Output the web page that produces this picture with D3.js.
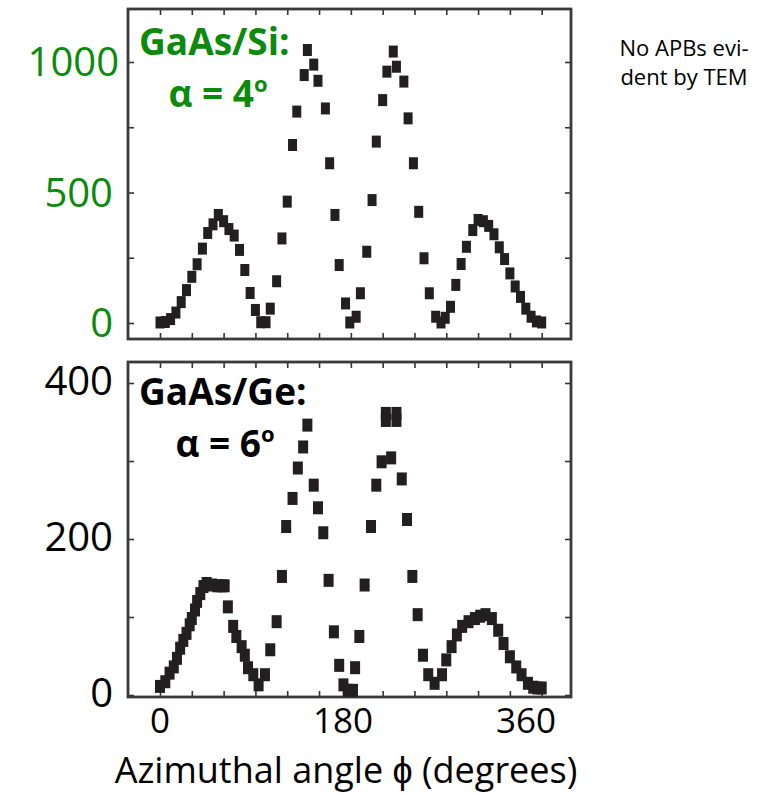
<!DOCTYPE html>
<html>
<head>
<meta charset="utf-8">
<script src="https://cdnjs.cloudflare.com/ajax/libs/d3/7.8.5/d3.min.js"></script>
<style>
  body { margin: 0; background: #fff; }
  svg { display: block; font-family: "Open Sans", sans-serif; }
</style>
</head>
<body>
<svg id="chart" width="763" height="793"></svg>
<script>
// GaAs/Si, alpha = 4 deg
const siPhi = [0, 5, 10, 15, 20, 25, 30, 35, 40, 45, 50, 55, 60, 65, 70, 75, 80, 85, 90, 95,
  100, 104, 110, 115, 120, 125, 129, 136, 139, 145, 149, 156, 160, 165, 169, 175, 179, 185, 189, 195,
  200, 204, 210, 214, 220, 223, 230, 234, 239, 244, 249, 254, 260, 265, 269, 274, 279, 284, 289, 295,
  300, 305, 310, 315, 320, 325, 330, 335, 340, 345, 350, 355, 360];
const siCounts = [2, 4, 15, 40, 80, 126, 177, 225, 285, 345, 378, 414, 390, 360, 335, 280, 203, 115, 50, 3,
  3, 55, 160, 324, 465, 682, 810, 950, 1046, 990, 928, 822, 612, 414, 222, 75, 2, 24, 114, 273,
  471, 695, 854, 963, 1040, 982, 925, 784, 612, 426, 248, 114, 24, 2, 20, 62, 146, 226, 292, 356,
  395, 390, 372, 340, 290, 245, 190, 140, 100, 55, 24, 6, 2];

// GaAs/Ge, alpha = 6 deg
const gePhi = [0, 5, 9, 13, 16, 19, 22, 25, 28, 30, 33, 35, 38, 41, 44, 49, 54, 58, 61, 64,
  69, 72, 77, 80, 83, 88, 93, 99, 104, 110, 115, 119, 125, 130, 135, 139, 145, 149, 154, 159,
  164, 169, 173, 177, 182, 184, 188, 193, 199, 204, 209, 213, 213, 218, 223, 223, 228, 233, 238, 243,
  248, 253, 259, 266, 270, 275, 280, 285, 291, 297, 302, 307, 313, 319, 324, 330, 336, 341, 347, 352,
  356, 360];
const geCounts = [11, 17, 28, 36, 47, 60, 70, 79, 90, 98, 109, 120, 130, 139, 143, 141, 140, 140, 140, 113,
  88, 75, 62, 51, 35, 26, 13, 26, 58, 94, 152, 216, 252, 291, 318, 346, 269, 240, 208, 147,
  81, 38, 13, 6, 6, 35, 75, 141, 216, 269, 299, 361, 352, 304, 361, 352, 277, 225, 152, 103,
  51, 26, 15, 26, 45, 62, 77, 88, 94, 98, 101, 103, 98, 83, 66, 49, 36, 26, 15, 10,
  9, 9];

const xTicks = [0, 30, 60, 90, 120, 150, 180, 210, 240, 270, 300, 330, 360];
const xLabels = [0, 180, 360];
const siTicks = [0, 250, 500, 750, 1000];
const siLabels = [0, 500, 1000];
const geTicks = [0, 100, 200, 300, 400];
const geLabels = [0, 200, 400];

const svg = d3.select("#chart");
const green = "#0b8a0b";
const ink = "#231f20";

const frameL = 128, frameR = 571;
const x = d3.scaleLinear().domain([0, 360]).range([160, 541.7]);
// the big overlaid labels sit a little left of the ticks
const xLab = d3.scaleLinear().domain([0, 360]).range([160, 526]);

const drawPanel = (p) => {
  const y = d3.scaleLinear().domain([0, p.yMax]).range([p.y0, p.yTop]);
  const g = svg.append("g");

  g.append("g").attr("transform", `translate(0,${p.bottom})`)
    .call(d3.axisBottom(x).tickValues(xTicks).tickSize(-6).tickFormat(""));
  g.append("g").attr("transform", `translate(0,${p.top})`)
    .call(d3.axisTop(x).tickValues(xTicks).tickSize(-6).tickFormat(""));
  g.append("g").attr("transform", `translate(${frameL},0)`)
    .call(d3.axisLeft(y).tickValues(p.ticks).tickSize(-6).tickFormat(""));
  g.append("g").attr("transform", `translate(${frameR},0)`)
    .call(d3.axisRight(y).tickValues(p.ticks).tickSize(-6).tickFormat(""));
  g.selectAll(".domain").remove();
  g.selectAll(".tick line").attr("stroke", "#333").attr("stroke-width", 1.6);

  g.append("rect")
    .attr("x", frameL).attr("y", p.top)
    .attr("width", frameR - frameL).attr("height", p.bottom - p.top)
    .attr("fill", "none").attr("stroke", "#3a3a3a").attr("stroke-width", 2.8);

  g.selectAll("rect.pt")
    .data(p.phi.map((d, i) => [d, p.counts[i]]))
    .enter().append("rect")
    .attr("class", "pt")
    .attr("x", d => x(d[0]) - p.sw / 2)
    .attr("y", d => y(d[1]) - p.sh / 2)
    .attr("width", p.sw).attr("height", p.sh)
    .attr("fill", ink);

  g.selectAll("text.ylab")
    .data(p.labels)
    .enter().append("text")
    .attr("class", "ylab")
    .attr("x", d => d >= 1000 ? 119 : 113)
    .attr("y", d => y(d) + p.labDy)
    .attr("text-anchor", "end")
    .attr("font-size", 40)
    .attr("fill", p.color)
    .text(d => d);

  g.append("text")
    .attr("x", 139).attr("y", p.top + p.nameDy)
    .attr("font-size", 37).attr("font-weight", "bold")
    .attr("fill", p.color)
    .text(p.name);

  const a = g.append("text")
    .attr("x", p.alphaX).attr("y", p.top + p.nameDy + 52)
    .attr("text-anchor", "middle")
    .attr("font-size", 37).attr("font-weight", "bold")
    .attr("fill", p.color);
  a.append("tspan").text(p.alpha);
  a.append("tspan").attr("font-size", 22).attr("dy", -15).text("o");
};

drawPanel({
  top: 9, bottom: 339, y0: 323, yTop: 62, yMax: 1000,
  phi: siPhi, counts: siCounts, ticks: siTicks, labels: siLabels,
  sw: 9, sh: 12, labDy: 14, color: green,
  name: "GaAs/Si:", alpha: "α = 4", alphaX: 218, nameDy: 46
});

drawPanel({
  top: 362, bottom: 697, y0: 695, yTop: 383, yMax: 400,
  phi: gePhi, counts: geCounts, ticks: geTicks, labels: geLabels,
  sw: 10, sh: 13, labDy: 12, color: "#000",
  name: "GaAs/Ge:", alpha: "α = 6", alphaX: 225, nameDy: 43
});

svg.selectAll("text.xlab")
  .data(xLabels)
  .enter().append("text")
  .attr("class", "xlab")
  .attr("x", d => xLab(d))
  .attr("y", 733)
  .attr("text-anchor", "middle")
  .attr("font-size", 35)
  .text(d => d);

svg.append("text")
  .attr("x", 346).attr("y", 783)
  .attr("text-anchor", "middle")
  .attr("font-size", 36)
  .text("Azimuthal angle ϕ (degrees)");

const note = svg.append("g").attr("font-size", 22).attr("text-anchor", "middle");
note.append("text").attr("x", 684).attr("y", 56).text("No APBs evi-");
note.append("text").attr("x", 684).attr("y", 85).text("dent by TEM");
</script>
</body>
</html>
